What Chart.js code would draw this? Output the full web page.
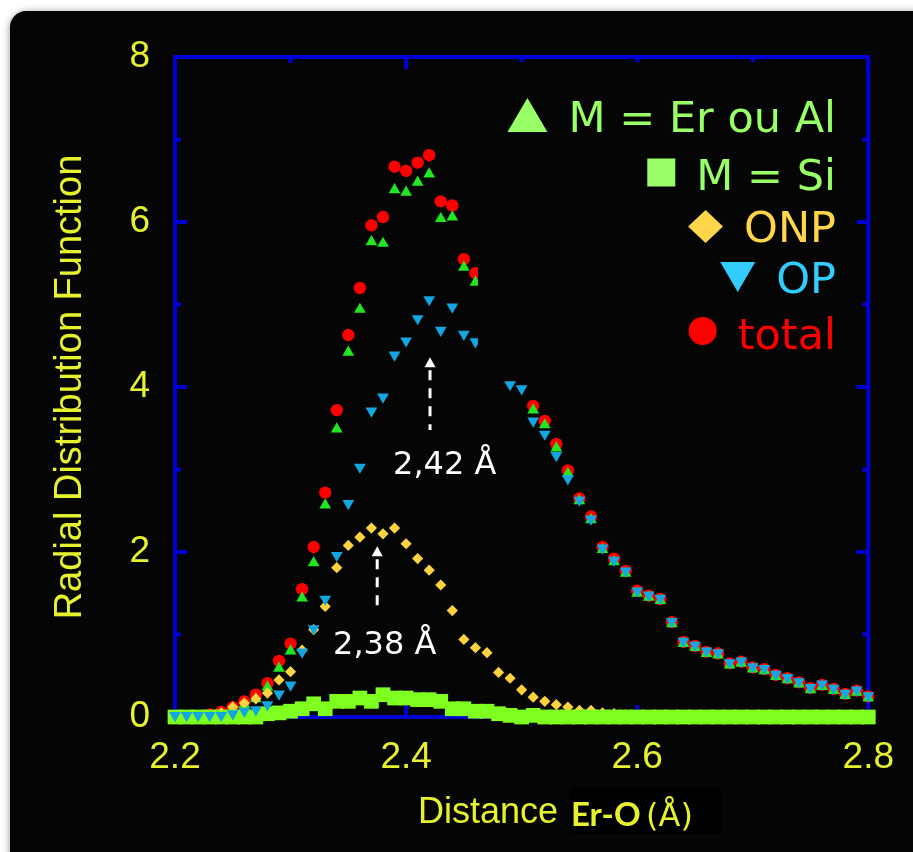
<!DOCTYPE html>
<html>
<head>
<meta charset="utf-8">
<script src="https://cdn.jsdelivr.net/npm/chart.js@4.4.1/dist/chart.umd.min.js"></script>
<style>
html, body { margin:0; padding:0; background:#fff; }
canvas { display:block; }
</style>
</head>
<body>
<canvas id="chart" width="913" height="852"></canvas>
<script>
// distance Er-O (Å), one point every 0.01
const distance = [
  2.20, 2.21, 2.22, 2.23, 2.24, 2.25, 2.26, 2.27, 2.28, 2.29,
  2.30, 2.31, 2.32, 2.33, 2.34, 2.35, 2.36, 2.37, 2.38, 2.39,
  2.40, 2.41, 2.42, 2.43, 2.44, 2.45, 2.46, 2.47, 2.48, 2.49,
  2.50, 2.51, 2.52, 2.53, 2.54, 2.55, 2.56, 2.57, 2.58, 2.59,
  2.60, 2.61, 2.62, 2.63, 2.64, 2.65, 2.66, 2.67, 2.68, 2.69,
  2.70, 2.71, 2.72, 2.73, 2.74, 2.75, 2.76, 2.77, 2.78, 2.79,
  2.80
];

const erAlRdf = [
  0, 0, 0, 0.01, 0.03, 0.08, 0.15, 0.22, 0.36, 0.59,
  0.80, 1.44, 1.87, 2.57, 3.49, 4.42, 4.94, 5.76, 5.74, 6.39,
  6.36, 6.48, 6.58, 6.04, 6.06, 5.45, 5.27, 4.95, 4.60, 4.25,
  4.15, 3.72, 3.54, 3.26, 2.95, 2.62, 2.39, 2.03, 1.88, 1.74,
  1.50, 1.45, 1.41, 1.13, 0.89, 0.84, 0.77, 0.75, 0.63, 0.65,
  0.58, 0.56, 0.49, 0.45, 0.40, 0.33, 0.37, 0.32, 0.26, 0.30,
  0.23
];

const siRdf = [
  0, 0, 0, 0, 0, 0, 0, 0, 0.04, 0.05,
  0.07, 0.10, 0.16, 0.10, 0.19, 0.19, 0.23, 0.19, 0.27, 0.23,
  0.23, 0.21, 0.21, 0.19, 0.10, 0.10, 0.07, 0.07, 0.04, 0.02,
  0, 0.02, 0, 0, 0, 0, 0, 0, 0, 0,
  0, 0, 0, 0, 0, 0, 0, 0, 0, 0,
  0, 0, 0, 0, 0, 0, 0, 0, 0, 0,
  0
];

const onpRdf = [
  0, 0, 0.01, 0.02, 0.05, 0.12, 0.17, 0.22, 0.29, 0.45,
  0.55, 0.81, 1.06, 1.34, 1.81, 2.08, 2.18, 2.29, 2.22, 2.29,
  2.10, 1.92, 1.78, 1.60, 1.29, 0.94, 0.84, 0.78, 0.54, 0.47,
  0.33, 0.24, 0.19, 0.15, 0.12, 0.08, 0.08, 0.05, 0.04, 0.03,
  0.02, 0.01, 0.01, 0, 0, 0, 0, 0, 0, 0,
  0, 0, 0, 0, 0, 0, 0, 0, 0, 0,
  0
];

const opRdf = [
  0.02, 0.02, 0.02, 0.02, 0.02, 0.04, 0.07, 0.09, 0.15, 0.28,
  0.39, 0.79, 1.07, 1.43, 1.96, 2.59, 3.03, 3.71, 3.88, 4.39,
  4.56, 4.83, 5.06, 4.69, 4.97, 4.64, 4.55, 4.40, 4.25, 4.03,
  3.98, 3.59, 3.43, 3.17, 2.89, 2.63, 2.40, 2.05, 1.90, 1.77,
  1.53, 1.48, 1.44, 1.16, 0.92, 0.87, 0.80, 0.78, 0.66, 0.68,
  0.61, 0.59, 0.52, 0.48, 0.43, 0.36, 0.40, 0.35, 0.29, 0.33,
  0.26
];

const totalRdf = [
  0, 0, 0.01, 0.03, 0.06, 0.12, 0.19, 0.27, 0.41, 0.68,
  0.89, 1.55, 2.06, 2.72, 3.72, 4.63, 5.20, 5.96, 6.06, 6.67,
  6.62, 6.72, 6.81, 6.25, 6.20, 5.55, 5.38, 5.05, 4.70, 4.30,
  4.20, 3.77, 3.59, 3.31, 2.99, 2.65, 2.43, 2.06, 1.92, 1.77,
  1.53, 1.47, 1.43, 1.15, 0.91, 0.86, 0.79, 0.77, 0.65, 0.67,
  0.60, 0.58, 0.51, 0.47, 0.42, 0.35, 0.39, 0.34, 0.28, 0.32,
  0.25
];

const seriesNames = ["M = Er ou Al", "M = Si", "ONP", "OP", "total"];

const xTicks = [2.2, 2.4, 2.6, 2.8];
const xMinorTicks = [2.3, 2.5, 2.7];
const yTicks = [0, 2, 4, 6, 8];
const yMinorTicks = [1, 3, 5, 7];

// peak markers: arrow from/to in RDF units, label anchor
const peakLabels = ["2,42 Å", "2,38 Å"];
const peakX = [2.4207, 2.375];
const peakFrom = [3.48, 1.26];
const peakTo = [4.36, 2.07];
const peakLabelX = [2.4334, 2.3815];
const peakLabelY = [3.05, 0.86];

const yellow = "#e6f22e";
const axisBlue = "#0000d4";

function pts(values) {
  return distance.map((d, i) => ({ x: d, y: values[i] }));
}

function shape(ctx, kind, cx, cy, w, h) {
  ctx.beginPath();
  if (kind === "up") {
    ctx.moveTo(cx, cy - h / 2);
    ctx.lineTo(cx + w / 2, cy + h / 2);
    ctx.lineTo(cx - w / 2, cy + h / 2);
  } else if (kind === "down") {
    ctx.moveTo(cx - w / 2, cy - h / 2);
    ctx.lineTo(cx + w / 2, cy - h / 2);
    ctx.lineTo(cx, cy + h / 2);
  } else if (kind === "square") {
    ctx.rect(cx - w / 2, cy - h / 2, w, h);
  } else if (kind === "diamond") {
    ctx.moveTo(cx, cy - h / 2);
    ctx.lineTo(cx + w / 2, cy);
    ctx.lineTo(cx, cy + h / 2);
    ctx.lineTo(cx - w / 2, cy);
  } else {
    ctx.arc(cx, cy, w / 2, 0, Math.PI * 2);
  }
  ctx.closePath();
  ctx.fill();
}

const panel = {
  id: "panel",
  beforeDraw(chart) {
    const ctx = chart.ctx;
    ctx.save();
    ctx.fillStyle = "#ffffff";
    ctx.fillRect(0, 0, chart.width, chart.height);
    ctx.shadowColor = "rgba(0,0,0,0.55)";
    ctx.shadowBlur = 8;
    ctx.shadowOffsetX = 1;
    ctx.shadowOffsetY = 2;
    ctx.fillStyle = "#050505";
    ctx.beginPath();
    ctx.roundRect(10, 11, chart.width + 20, chart.height + 20, 16);
    ctx.fill();
    ctx.restore();
  },
  beforeDatasetsDraw(chart) {
    const { ctx, chartArea: a, scales: { x, y } } = chart;
    ctx.save();
    ctx.strokeStyle = axisBlue;
    ctx.lineWidth = 4;
    ctx.strokeRect(a.left, a.top, a.right - a.left, a.bottom - a.top);
    ctx.beginPath();
    const xt = (v, len) => {
      const p = x.getPixelForValue(v);
      ctx.moveTo(p, a.bottom); ctx.lineTo(p, a.bottom - len);
      ctx.moveTo(p, a.top); ctx.lineTo(p, a.top + len);
    };
    const yt = (v, len) => {
      const p = y.getPixelForValue(v);
      ctx.moveTo(a.left, p); ctx.lineTo(a.left + len, p);
      ctx.moveTo(a.right, p); ctx.lineTo(a.right - len, p);
    };
    xTicks.forEach(v => xt(v, 12));
    xMinorTicks.forEach(v => xt(v, 6));
    yTicks.forEach(v => yt(v, 12));
    yMinorTicks.forEach(v => yt(v, 6));
    ctx.stroke();
    ctx.restore();
  },
  afterDatasetsDraw(chart) {
    const { ctx, scales: { x, y } } = chart;
    ctx.save();

    // legend box (opaque, hides points behind it)
    ctx.fillStyle = "#050505";
    ctx.fillRect(478, 62, 379, 319);

    const legendStyle = [
      { kind: "up", w: 40, h: 34, color: "#99ff66", base: 132, dy: -17 },
      { kind: "square", w: 28, h: 28, color: "#99ff66", base: 190, dy: -17.5 },
      { kind: "diamond", w: 35, h: 33, color: "#ffd54a", base: 242, dy: -15.5 },
      { kind: "down", w: 35, h: 30, color: "#33ccff", base: 293, dy: -16 },
      { kind: "circle", w: 28, h: 28, color: "#ff0000", base: 349, dy: -18 }
    ];
    ctx.font = '43px "DejaVu Sans"';
    ctx.textBaseline = "alphabetic";
    ctx.textAlign = "right";
    seriesNames.forEach((name, i) => {
      const s = legendStyle[i];
      const right = 836;
      const tw = ctx.measureText(name).width;
      ctx.fillStyle = s.color;
      ctx.fillText(name, right, s.base);
      const cx = right - tw - 21 - s.w / 2;
      shape(ctx, s.kind, cx, s.base + s.dy, s.w, s.h);
    });

    // peak arrows and labels
    ctx.strokeStyle = "#ffffff";
    ctx.fillStyle = "#ffffff";
    ctx.lineWidth = 3;
    peakLabels.forEach((lab, i) => {
      const px = x.getPixelForValue(peakX[i]);
      const y0 = y.getPixelForValue(peakFrom[i]);
      const y1 = y.getPixelForValue(peakTo[i]);
      ctx.setLineDash([10, 8]);
      ctx.beginPath();
      ctx.moveTo(px, y1 + 13);
      ctx.lineTo(px, y0);
      ctx.stroke();
      ctx.setLineDash([]);
      ctx.beginPath();
      ctx.moveTo(px, y1);
      ctx.lineTo(px + 5.5, y1 + 10);
      ctx.lineTo(px - 5.5, y1 + 10);
      ctx.closePath();
      ctx.fill();
      ctx.font = '32px "DejaVu Sans"';
      ctx.textAlign = "center";
      ctx.textBaseline = "middle";
      ctx.fillText(lab, x.getPixelForValue(peakLabelX[i]), y.getPixelForValue(peakLabelY[i]));
    });

    // x axis title with its mixed fonts
    ctx.textAlign = "left";
    ctx.textBaseline = "alphabetic";
    ctx.fillStyle = yellow;
    ctx.font = '36px "Liberation Sans"';
    ctx.fillText("Distance", 418, 823);
    ctx.fillStyle = "#000000";
    ctx.fillRect(570, 788, 151, 46);
    ctx.fillStyle = yellow;
    ctx.font = 'bold 33px Lato';
    ctx.fillText("Er-O", 571, 826);
    ctx.font = '32px "DejaVu Sans"';
    ctx.fillText("(Å)", 646, 826);
    ctx.restore();
  }
};

const ctx = document.getElementById("chart");

const chart = new Chart(ctx, {
  type: "scatter",
  data: {
    datasets: [
      {
        label: seriesNames[0],
        data: pts(erAlRdf),
        order: 3,
        pointStyle: "triangle",
        pointRadius: 6.8,
        backgroundColor: "#22e622",
        borderWidth: 0
      },
      {
        label: seriesNames[1],
        data: pts(siRdf),
        order: 1,
        pointStyle: "rect",
        pointRadius: 10.4,
        backgroundColor: "#7fff20",
        borderWidth: 0
      },
      {
        label: seriesNames[2],
        data: pts(onpRdf),
        order: 2,
        pointStyle: "rectRot",
        pointRadius: 5.6,
        backgroundColor: "#ffd23f",
        borderWidth: 0
      },
      {
        label: seriesNames[3],
        data: pts(opRdf),
        order: 0,
        pointStyle: "triangle",
        rotation: 180,
        pointRotation: 180,
        pointRadius: 6.8,
        backgroundColor: "#12a6e2",
        borderWidth: 0
      },
      {
        label: seriesNames[4],
        data: pts(totalRdf),
        order: 4,
        pointStyle: "circle",
        pointRadius: 6.2,
        backgroundColor: "#ff0000",
        borderWidth: 0
      }
    ]
  },
  options: {
    responsive: false,
    animation: false,
    events: [],
    devicePixelRatio: 1,
    clip: false,
    layout: { padding: { left: 0, top: 57, right: 44, bottom: 0 } },
    plugins: {
      legend: { display: false },
      tooltip: { enabled: false }
    },
    datasets: { scatter: { clip: false } },
    scales: {
      x: {
        type: "linear",
        min: 2.2,
        max: 2.8,
        afterBuildTicks: s => { s.ticks = xTicks.map(v => ({ value: v })); },
        afterFit: s => { s.height = 135; },
        grid: { display: false, drawTicks: false },
        border: { display: false },
        ticks: {
          color: yellow,
          font: { family: "Liberation Sans", size: 37 },
          padding: 19,
          maxRotation: 0,
          callback: v => v.toFixed(1)
        }
      },
      y: {
        min: 0,
        max: 8,
        afterBuildTicks: s => { s.ticks = yTicks.map(v => ({ value: v })); },
        afterFit: s => { s.width = 175; },
        grid: { display: false, drawTicks: false },
        border: { display: false },
        ticks: {
          color: yellow,
          font: { family: "Liberation Sans", size: 37 },
          padding: 25
        },
        title: {
          display: true,
          text: "Radial Distribution Function",
          color: yellow,
          font: { family: "Liberation Sans", size: 38 },
          padding: { top: 48, bottom: 0 }
        }
      }
    }
  },
  plugins: [panel]
});
</script>
</body>
</html>
